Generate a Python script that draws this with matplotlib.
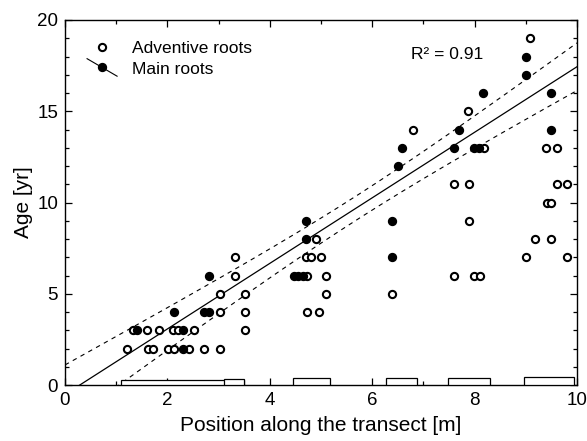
import numpy as np
import matplotlib
matplotlib.use("Agg")
import matplotlib.pyplot as plt
from matplotlib.lines import Line2D
from matplotlib.patches import Rectangle
from matplotlib.legend_handler import HandlerBase

plt.rcParams['font.family'] = ['Liberation Sans', 'DejaVu Sans']

# ---- data ----
adv_x = [1.21, 1.63, 1.71, 2.02, 2.13, 2.43, 2.72, 3.02,
         1.32, 1.61, 1.83, 2.11, 2.20, 2.52, 3.52,
         3.02, 3.52, 4.72, 4.96,
         3.02, 3.52, 5.10, 6.39,
         3.33, 4.73, 5.10, 7.59, 7.99, 8.10,
         3.33, 4.70, 4.80, 5.00, 9.00, 9.80,
         4.91, 9.18, 9.50,
         7.89,
         9.41, 9.50,
         7.59, 7.89, 9.61, 9.80,
         8.19, 9.39, 9.61,
         6.80,
         7.88,
         9.09]
adv_y = [2, 2, 2, 2, 2, 2, 2, 2,
         3, 3, 3, 3, 3, 3, 3,
         4, 4, 4, 4,
         5, 5, 5, 5,
         6, 6, 6, 6, 6, 6,
         7, 7, 7, 7, 7, 7,
         8, 8, 8,
         9,
         10, 10,
         11, 11, 11, 11,
         13, 13, 13,
         14,
         15,
         19]

main_x = [1.41, 2.31, 2.30, 2.13, 2.72, 2.82, 2.82, 4.48, 4.56, 4.64,
          4.71, 4.71, 6.39, 6.39, 6.50, 6.59, 7.59, 7.70, 7.99, 8.08,
          8.17, 9.00, 9.00, 9.49, 9.49]
main_y = [3, 2, 3, 4, 4, 4, 6, 6, 6, 6,
          8, 9, 9, 7, 12, 13, 13, 14, 13, 13,
          16, 17, 18, 16, 14]

# regression line as drawn
fit_intercept = -0.52
fit_slope = 1.796
r2_text = "R\u00b2 = 0.91"

# sampling strips along the transect
strip_start = [1.10, 3.10, 4.45, 6.27, 7.48, 8.96]
strip_end = [3.50, 3.50, 5.18, 6.88, 8.30, 9.94]
strip_height = [0.28, 0.34, 0.40, 0.40, 0.40, 0.44]

# ---- figure ----
fig = plt.figure(figsize=(5.87, 4.41), dpi=100)
ax = fig.add_axes([65 / 587, 1 - 385 / 441, 512 / 587, 365 / 441])

# confidence band (95 % CI of the regression)
mx = np.array(main_x)
my = np.array(main_y)
n = len(mx)
resid = my - (fit_intercept + fit_slope * mx)
s = np.sqrt(np.sum(resid ** 2) / (n - 2))
sxx = np.sum((mx - mx.mean()) ** 2)
tval = 2.069
xx = np.linspace(0, 10, 200)
yy = fit_intercept + fit_slope * xx
hw = tval * s * np.sqrt(1 / n + (xx - mx.mean()) ** 2 / sxx)

ax.plot(xx, yy, color='black', lw=0.9, zorder=2)
ax.plot(xx, yy + hw, color='black', lw=0.8, ls=(0, (4, 4)), zorder=2)
ax.plot(xx, yy - hw, color='black', lw=0.8, ls=(0, (4, 4)), zorder=2)

for a, b, h in zip(strip_start, strip_end, strip_height):
    ax.add_patch(Rectangle((a, 0), b - a, h, facecolor='white',
                           edgecolor='black', lw=0.9, zorder=3))

MS, MEW = 5.2, 1.5
ax.plot(adv_x, adv_y, ls='none', marker='o', ms=MS, mfc='white',
        mec='black', mew=MEW, zorder=4)
ax.plot(main_x, main_y, ls='none', marker='o', ms=MS, mfc='black',
        mec='black', mew=MEW, zorder=5)

ax.set_xlim(0, 10)
ax.set_ylim(0, 20)
ax.set_xticks(np.arange(0, 11, 2))
ax.set_xticks(np.arange(0, 11, 1), minor=True)
ax.set_yticks(np.arange(0, 21, 5))
ax.set_yticks(np.arange(0, 21, 1), minor=True)
ax.tick_params(which='both', direction='in', top=True, right=True,
               labelsize=13.5, width=0.9)
ax.tick_params(which='major', length=5, pad=5)
ax.tick_params(which='minor', length=3)
for sp in ax.spines.values():
    sp.set_linewidth(1.0)

ax.set_xlabel("Position along the transect [m]", fontsize=15, labelpad=5)
ax.set_ylabel("Age [yr]", fontsize=15, labelpad=3)

ax.text(6.76, 18.1, r2_text, fontsize=12.5, va='center', ha='left')


class SlantHandler(HandlerBase):
    def create_artists(self, legend, orig_handle, xdescent, ydescent,
                       width, height, fontsize, trans):
        cx = width / 2 - xdescent
        cy = height / 2 - ydescent
        dx, dy = 10.8, 6.3
        line = Line2D([cx - dx, cx + dx], [cy + dy, cy - dy], color='black',
                      lw=0.8, transform=trans)
        mk = Line2D([cx], [cy], ls='none', marker='o', ms=MS, mfc='black',
                    mec='black', mew=MEW, transform=trans)
        return [line, mk]


h_adv = Line2D([], [], ls='none', marker='o', ms=MS, mfc='white',
               mec='black', mew=MEW)
h_main = Line2D([], [], ls='-', marker='o', ms=MS, mfc='black',
                mec='black', color='black')
ax.legend([h_adv, h_main], ["Adventive roots", "Main roots"],
          handler_map={h_main: SlantHandler()},
          loc='upper left', bbox_to_anchor=(89.5 / 587, 400 / 441),
          bbox_transform=fig.transFigure, frameon=False, fontsize=12.5,
          handlelength=1.45, handletextpad=1.0, labelspacing=0.3,
          borderpad=0, borderaxespad=0)

fig.savefig("out.png", dpi=100)
